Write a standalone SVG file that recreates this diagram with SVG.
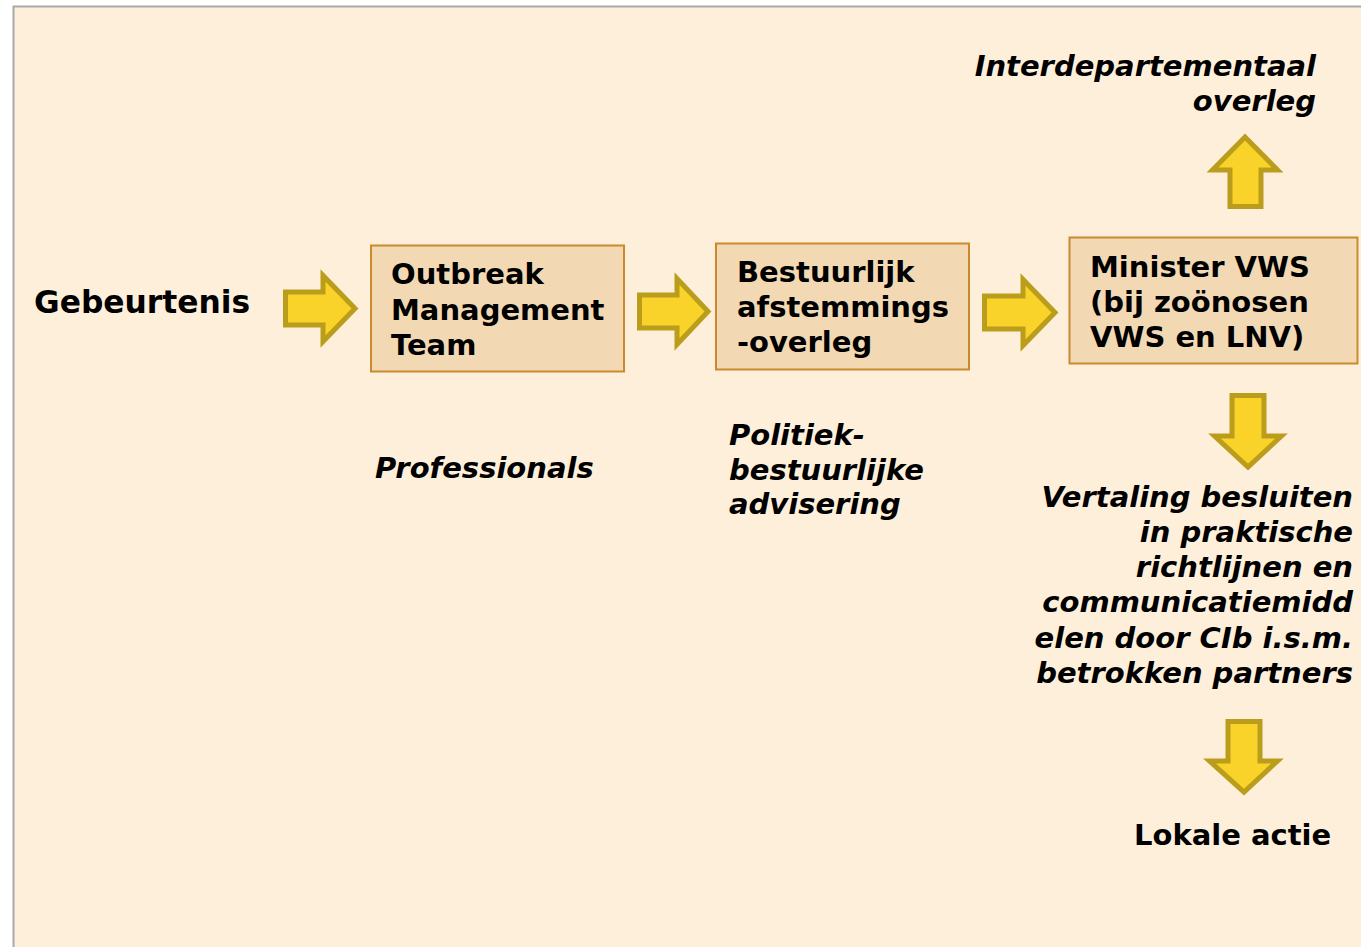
<svg xmlns="http://www.w3.org/2000/svg" width="1361" height="947" viewBox="0 0 1361 947">
<style>
.bg{fill:#FEEFDB;stroke:#A9A9A9;stroke-width:2}
.box{fill:#F2D9B4;stroke:#C98A2E;stroke-width:2}
.arr{fill:#F9D22A;stroke:#BB9D1C;stroke-width:5;stroke-linejoin:miter}
text{font-family:"DejaVu Sans","Verdana",sans-serif;font-weight:bold;font-size:29px;fill:#000}
.it{font-style:italic}
.r{text-anchor:end}
</style>
<rect class="bg" x="13.5" y="6.5" width="1360" height="950"/>
<g id="connectors">
<polygon class="arr" points="285.5,292 323,292 323,275.5 355,308.5 323,341.5 323,325 285.5,325"/>
<polygon class="arr" points="639.5,295 677,295 677,278.5 708,311.5 677,344.5 677,328 639.5,328"/>
<polygon class="arr" points="984.5,296 1023,296 1023,279.5 1055,312.5 1023,345.5 1023,329 984.5,329"/>
<polygon class="arr" points="1230,206.5 1230,170 1212.5,170 1245,137 1277.5,170 1261,170 1261,206.5"/>
<polygon class="arr" points="1232,395.5 1264,395.5 1264,436 1281.5,436 1248,467 1214.5,436 1232,436"/>
<polygon class="arr" points="1228,721.5 1260,721.5 1260,761 1277.5,761 1244,792 1209.5,761 1228,761"/>
</g>
<g id="gebeurtenis"><text x="34" y="313" style="font-size:31.3px">Gebeurtenis</text></g>
<g id="omt">
<rect class="box" x="371" y="245.5" width="253" height="126"/>
<text x="391" y="284">Outbreak</text>
<text x="391" y="320">Management</text>
<text x="391" y="355">Team</text>
</g>
<g id="bao">
<rect class="box" x="716" y="243.5" width="253" height="126"/>
<text x="737" y="282">Bestuurlijk</text>
<text x="737" y="317">afstemmings</text>
<text x="737" y="352">-overleg</text>
</g>
<g id="minister">
<rect class="box" x="1069.5" y="237.5" width="288" height="126"/>
<text x="1090" y="277">Minister VWS</text>
<text x="1090" y="312">(bij zoönosen</text>
<text x="1090" y="347">VWS en LNV)</text>
</g>
<g id="interdepartementaal">
<text class="it r" x="1316" y="76">Interdepartementaal</text>
<text class="it r" x="1316" y="111">overleg</text>
</g>
<g id="professionals"><text class="it" x="375" y="478">Professionals</text></g>
<g id="politiek">
<text class="it" x="729" y="445">Politiek-</text>
<text class="it" x="729" y="480">bestuurlijke</text>
<text class="it" x="729" y="514">advisering</text>
</g>
<g id="vertaling">
<text class="it r" x="1353" y="507">Vertaling besluiten</text>
<text class="it r" x="1353" y="542">in praktische</text>
<text class="it r" x="1353" y="577">richtlijnen en</text>
<text class="it r" x="1353" y="612">communicatiemidd</text>
<text class="it r" x="1353" y="648">elen door CIb i.s.m.</text>
<text class="it r" x="1353" y="683">betrokken partners</text>
</g>
<g id="lokale"><text x="1134" y="845">Lokale actie</text></g>
</svg>
